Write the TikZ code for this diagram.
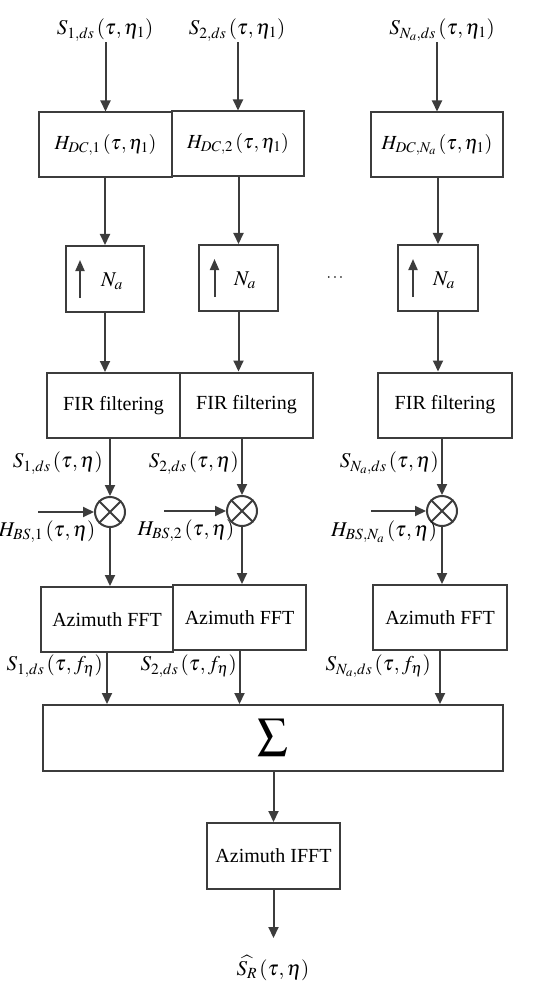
\documentclass[tikz,border=0pt]{standalone}
\usepackage{mathptmx}
\usepackage{fontspec}
\setmainfont{Liberation Serif}
\usetikzlibrary{arrows.meta}
\definecolor{ln}{HTML}{3C3C3C}
\begin{document}
\begin{tikzpicture}[x=1pt,y=-1pt,
  every node/.style={font=\fontsize{20}{24}\selectfont},
  blk/.style={draw=ln, line width=2pt, minimum height=65pt, inner sep=0pt},
  arr/.style={draw=ln, line width=2pt, -{Triangle[length=11pt,width=10pt]}},
  uparr/.style={draw=ln, line width=2pt, -{Triangle[length=11pt,width=9pt]}},
  mul/.style={draw=ln, line width=2pt, circle, minimum size=30pt, inner sep=0pt},
  crs/.style={draw=ln, line width=2pt},
  lab/.style={inner sep=1pt, text=black, font=\fontsize{21}{24}\selectfont}
]
\useasboundingbox (0,0) rectangle (550,992);

% top inputs
\node[lab] (s1) at (105,30) {$S_{1,ds}\left(\tau,\eta_1\right)$};
\node[lab] (s2) at (237,30) {$S_{2,ds}\left(\tau,\eta_1\right)$};
\node[lab] (s3) at (442,30) {$S_{N_a,ds}\left(\tau,\eta_1\right)$};

% H_DC blocks
\node[blk, minimum width=133pt] (h1) at (105.5,145) {$H_{DC,1}\left(\tau,\eta_1\right)$};
\node[blk, minimum width=132pt] (h2) at (238,144) {$H_{DC,2}\left(\tau,\eta_1\right)$};
\node[blk, minimum width=132pt] (h3) at (437,145) {$H_{DC,N_a}\left(\tau,\eta_1\right)$};

\draw[arr] (s1.south -| h1.north) -- (h1.north);
\draw[arr] (s2.south -| h2.north) -- (h2.north);
\draw[arr] (s3.south -| h3.north) -- (h3.north);

% upsampling blocks
\node[blk, minimum width=78pt, minimum height=66pt] (n1) at (105,279) {};
\node[blk, minimum width=79pt, minimum height=66pt] (n2) at (238.5,278) {};
\node[blk, minimum width=80pt, minimum height=66pt] (n3) at (438,278) {};
\node[lab] (na1) at (112,281) {$N_a$};
\node[lab] (na2) at (245,280) {$N_a$};
\node[lab] (na3) at (444,280) {$N_a$};
\draw[uparr] ([xshift=-25pt,yshift=-19pt]n1.center) -- ++(0,-38);
\draw[uparr] ([xshift=-24pt,yshift=-19pt]n2.center) -- ++(0,-38);
\draw[uparr] ([xshift=-25pt,yshift=-19pt]n3.center) -- ++(0,-38);
\node[lab, font=\fontsize{16}{18}\selectfont] (dots) at (335,278) {$\cdots$};

\draw[arr] (h1.south -| n1.north) -- (n1.north);
\draw[arr] (h2.south -| n2.north) -- (n2.north);
\draw[arr] (h3.south -| n3.north) -- (n3.north);

% FIR blocks
\node[blk, minimum width=133pt] (f1) at (113.5,405.5) {FIR filtering};
\node[blk, minimum width=133pt] (f2) at (246.5,405) {FIR filtering};
\node[blk, minimum width=134pt] (f3) at (445,405) {FIR filtering};

\draw[arr] (n1.south) -- (n1.south |- f1.north);
\draw[arr] (n2.south) -- (n2.south |- f2.north);
\draw[arr] (n3.south) -- (n3.south |- f3.north);

% multipliers
\node[mul] (m1) at (110,512) {};
\node[mul] (m2) at (242,511) {};
\node[mul] (m3) at (442,511) {};
\draw[crs] (m1.north west) -- (m1.south east) (m1.north east) -- (m1.south west);
\draw[crs] (m2.north west) -- (m2.south east) (m2.north east) -- (m2.south west);
\draw[crs] (m3.north west) -- (m3.south east) (m3.north east) -- (m3.south west);

\draw[arr] (f1.south -| m1.north) -- (m1.north);
\draw[arr] (f2.south -| m2.north) -- (m2.north);
\draw[arr] (f3.south -| m3.north) -- (m3.north);

\node[lab, anchor=east] (l1) at (104,463) {$S_{1,ds}\left(\tau,\eta\right)$};
\node[lab, anchor=east] (l2) at (240,463) {$S_{2,ds}\left(\tau,\eta\right)$};
\node[lab, anchor=east] (l3) at (440,463) {$S_{N_a,ds}\left(\tau,\eta\right)$};

\coordinate (b1) at (38,512);
\coordinate (b2) at (164,511);
\coordinate (b3) at (371,511);
\draw[arr] (b1) -- (m1.west);
\draw[arr] (b2) -- (m2.west);
\draw[arr] (b3) -- (m3.west);
\node[lab] (hb1) at (47,532) {$H_{BS,1}\left(\tau,\eta\right)$};
\node[lab] (hb2) at (186,531) {$H_{BS,2}\left(\tau,\eta\right)$};
\node[lab] (hb3) at (384,532) {$H_{BS,N_a}\left(\tau,\eta\right)$};

% azimuth FFT
\node[blk, minimum width=132pt] (a1) at (107,619.5) {Azimuth FFT};
\node[blk, minimum width=133pt] (a2) at (239.5,617.5) {Azimuth FFT};
\node[blk, minimum width=134pt] (a3) at (440,617.5) {Azimuth FFT};

\draw[arr] (m1.south) -- (m1.south |- a1.north);
\draw[arr] (m2.south) -- (m2.south |- a2.north);
\draw[arr] (m3.south) -- (m3.south |- a3.north);

% sum
\node[blk, minimum width=460pt, minimum height=66pt] (sg) at (273,738) {\fontsize{30}{36}\selectfont$\displaystyle\sum$};

\draw[arr] (a1.south) -- (a1.south |- sg.north);
\draw[arr] (a2.south) -- (a2.south |- sg.north);
\draw[arr] (a3.south) -- (a3.south |- sg.north);

\node[lab, anchor=east] (g1) at (104,666) {$S_{1,ds}\left(\tau,f_\eta\right)$};
\node[lab, anchor=east] (g2) at (238,666) {$S_{2,ds}\left(\tau,f_\eta\right)$};
\node[lab, anchor=east] (g3) at (432,666) {$S_{N_a,ds}\left(\tau,f_\eta\right)$};

% IFFT
\node[blk, minimum width=133pt, minimum height=66pt] (i1) at (273.5,856) {Azimuth IFFT};
\draw[arr] (sg.south -| i1.north) -- (i1.north);
\coordinate (o) at (273.5,938);
\draw[arr] (i1.south) -- (o);
\node[lab] (out) at (273,968) {$\widehat{S_R}\left(\tau,\eta\right)$};
\end{tikzpicture}
\end{document}
